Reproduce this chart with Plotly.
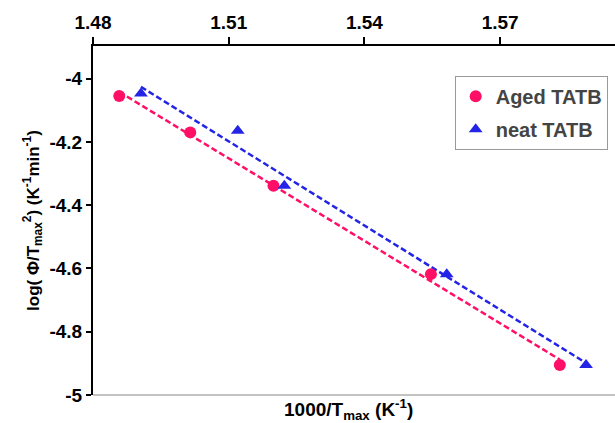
import numpy as np
import plotly.graph_objects as go

# Data
aged_x = [1.4858, 1.5015, 1.5199, 1.5547, 1.5832]
aged_y = [-4.055, -4.170, -4.339, -4.618, -4.905]
neat_x = [1.4906, 1.5120, 1.5223, 1.5582, 1.5890]
neat_y = [-4.047, -4.165, -4.339, -4.618, -4.905]

x_ticks = [1.48, 1.51, 1.54, 1.57]
x_ticktext = ["1.48", "1.51", "1.54", "1.57"]
y_ticks = [-5, -4.8, -4.6, -4.4, -4.2, -4]
y_ticktext = ["-5", "-4.8", "-4.6", "-4.4", "-4.2", "-4"]

PINK = "#FF0F66"
BLUE = "#2424E6"
FONT = "Liberation Sans, Arial, sans-serif"


def fit_line(xs, ys):
    k, b = np.polyfit(xs, ys, 1)
    xe = np.array([min(xs), max(xs)])
    return xe, k * xe + b


fig = go.Figure()

ax_, ay_ = fit_line(aged_x, aged_y)
nx_, ny_ = fit_line(neat_x, neat_y)

fig.add_trace(go.Scatter(x=ax_, y=ay_, mode="lines", showlegend=False,
                         line=dict(color=PINK, width=2.5, dash="6px,3px"), hoverinfo="skip"))
fig.add_trace(go.Scatter(x=nx_, y=ny_, mode="lines", showlegend=False,
                         line=dict(color=BLUE, width=2.5, dash="6px,3px"), hoverinfo="skip"))

fig.add_trace(go.Scatter(x=aged_x, y=aged_y, mode="markers", name="Aged TATB",
                         legendgroup="a",
                         marker=dict(symbol="circle", size=12, color=PINK)))
fig.add_trace(go.Scatter(x=neat_x, y=neat_y, mode="markers", name="neat TATB",
                         legendgroup="b",
                         marker=dict(symbol="triangle-up", size=12, color=BLUE)))

fig.update_layout(
    width=615, height=423,
    margin=dict(l=93, r=0, t=46, b=28),
    paper_bgcolor="white", plot_bgcolor="white",
    font=dict(family=FONT, color="black"),
    xaxis=dict(
        side="top", range=[1.48, 1.5954], tickvals=x_ticks, ticktext=x_ticktext,
        showline=True, linecolor="black", linewidth=2, ticks="outside",
        ticklen=7, tickwidth=2, tickcolor="black", showgrid=False, zeroline=False,
        tickfont=dict(size=19, family=FONT, weight="bold"),
    ),
    yaxis=dict(
        range=[-5, -3.897], tickvals=y_ticks, ticktext=y_ticktext,
        showline=True, linecolor="black", linewidth=2, ticks="outside",
        ticklen=5, tickwidth=2, tickcolor="black", showgrid=False, zeroline=False,
        tickfont=dict(size=19, family=FONT, weight="bold"),
        title=dict(text="log( Φ/T<sub>max</sub><sup>2</sup>) (K<sup>-1</sup>min<sup>-1</sup>)",
                   font=dict(size=17, family=FONT, weight="bold"), standoff=6),
    ),
    legend=dict(
        x=0.986, y=0.915, xanchor="right", yanchor="top",
        bordercolor="#999999", borderwidth=1, bgcolor="white",
        font=dict(size=20, family=FONT, color="#444444", weight="bold"),
        traceorder="grouped", tracegroupgap=4,
    ),
    shapes=[dict(type="line", xref="paper", yref="paper", x0=0, x1=1, y0=0, y1=0,
                 line=dict(color="#888888", width=1))],
    annotations=[dict(text="1000/T<sub>max</sub> (K<sup>-1</sup>)", xref="paper", yref="paper",
                      x=0.49, y=0, yshift=-14, showarrow=False, yanchor="middle",
                      font=dict(size=19, family=FONT, weight="bold", color="black"))],
)

fig.write_html("out.html")
